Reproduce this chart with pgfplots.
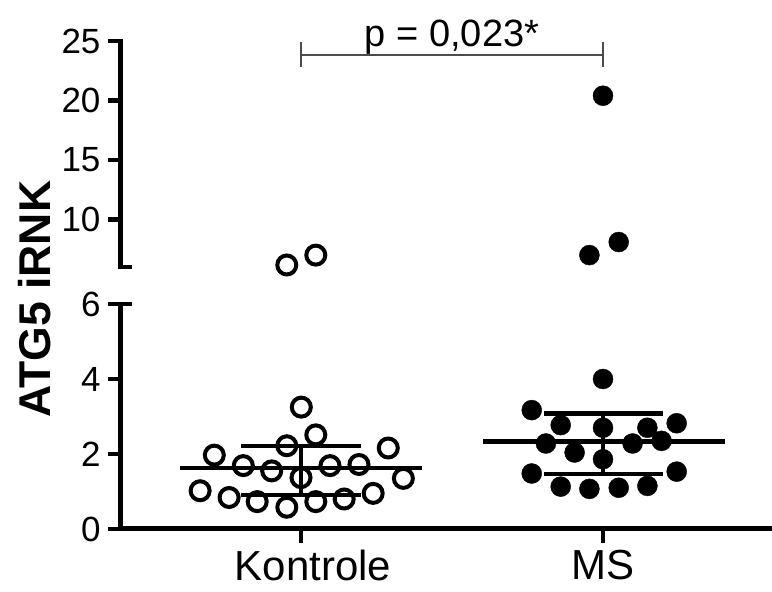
\documentclass[border=0pt]{standalone}
\usepackage{fontspec}
\setmainfont{Liberation Sans}
\usepackage{pgfplots}
\pgfplotsset{compat=1.18}
\tikzset{tk/.style={line width=4.5pt}}
\begin{document}
\begin{tikzpicture}
\useasboundingbox (0pt,0pt) rectangle (772pt,592pt);
\pgfplotsset{
 common/.style={scale only axis, width=652pt, xmin=0.4007, xmax=2.5596, clip=false,
  major tick length=12pt, tick align=outside,
  /pgf/number format/assume math mode=true,
  yticklabel style={font=\fontsize{35}{40}\selectfont, xshift=-10pt},
 },
 lines/.style={
  axis line style={draw=none,-},
  every outer x axis line/.append style={-},
  every outer y axis line/.append style={-},
  tick style={draw=none},
 },
 ctrl/.style={only marks, mark=o, mark size=9.5pt, line width=4pt, black},
 ms/.style={only marks, mark=*, mark size=10pt, black},
 bar/.style={black, line width=4.5pt, no marks},
}
% lower segment
\begin{axis}[common, at={(120pt,63pt)}, anchor=south west, height=225pt,
  ymin=0, ymax=6, axis x line=bottom, axis y line=left, ytick={0,2,4,6},
  xtick={1,2}, xticklabels={\hspace*{24pt}Kontrole,MS},
  xticklabel style={font=\fontsize{42}{48}\selectfont, yshift=-12pt}, lines]
\addplot[ctrl] coordinates {
(1.001,3.25) (1.049,2.51) (0.953,2.22) (0.713,1.97) (1.289,2.16)
(0.809,1.69) (0.903,1.55) (1.000,1.37) (1.096,1.69) (1.192,1.72)
(1.339,1.35) (0.666,1.02) (0.762,0.84) (0.855,0.73) (0.953,0.58)
(1.049,0.73) (1.143,0.80) (1.239,0.95)};
\addplot[ms] coordinates {
(2.000,4.00) (1.764,3.17) (1.860,2.77) (2.000,2.70) (2.147,2.70)
(2.244,2.82) (1.811,2.28) (1.906,2.04) (2.098,2.28) (2.194,2.35)
(2.000,1.86) (1.764,1.48) (2.244,1.53) (1.860,1.13) (1.955,1.07)
(2.052,1.10) (2.147,1.15)};
\addplot[bar] coordinates {(0.6,1.62) (1.4,1.62)};
\addplot[bar] coordinates {(0.8,2.21) (1.2,2.21)};
\addplot[bar] coordinates {(0.8,0.91) (1.2,0.91)};
\addplot[bar] coordinates {(1,0.91) (1,2.21)};
\addplot[bar] coordinates {(1.604,2.33) (2.404,2.33)};
\addplot[bar] coordinates {(1.805,3.08) (2.2,3.08)};
\addplot[bar] coordinates {(1.805,1.46) (2.2,1.46)};
\addplot[bar] coordinates {(2,1.46) (2,3.08)};
% spines and ticks
\draw[line width=5pt, line join=miter] (rel axis cs:0,1) -- (rel axis cs:0,0) -- (rel axis cs:1,0);
\draw[tk] (rel axis cs:0,0) -- ++(-12pt,0pt);
\draw[tk] (axis cs:0.4007,2) -- ++(-12pt,0pt);
\draw[tk] (axis cs:0.4007,4) -- ++(-12pt,0pt);
\draw[tk] (rel axis cs:0,1) ++(-12pt,0pt) -- ++(24pt,0pt);
\draw[tk] (axis cs:1,0) -- ++(0pt,-14pt);
\draw[tk] (axis cs:2,0) -- ++(0pt,-14pt);
\end{axis}
% upper segment
\begin{axis}[common, at={(120pt,325pt)}, anchor=south west, height=226pt,
  ymin=6, ymax=25, axis x line=none, axis y line=left, ytick={10,15,20,25}, lines]
\addplot[ctrl] coordinates {(0.953,6.17) (1.049,7.0)};
\addplot[ms] coordinates {(2.0,20.4) (1.955,7.0) (2.052,8.1)};
\draw[line width=5pt] (rel axis cs:0,0) -- (rel axis cs:0,1);
\draw[tk] (rel axis cs:0,0) ++(-2.5pt,0pt) -- ++(14.5pt,0pt);
\draw[tk] (axis cs:0.4007,10) -- ++(-12pt,0pt);
\draw[tk] (axis cs:0.4007,15) -- ++(-12pt,0pt);
\draw[tk] (axis cs:0.4007,20) -- ++(-12pt,0pt);
\draw[tk] (rel axis cs:0,1) ++(2.5pt,0pt) -- ++(-14.5pt,0pt);
\draw[line width=2pt, black!70] (axis cs:1,22.81) -- (axis cs:1,24.92);
\draw[line width=2pt, black!70] (axis cs:2,22.81) -- (axis cs:2,24.92);
\draw[line width=2pt, black!70] (axis cs:1,23.82) -- (axis cs:2,23.82);
\node[anchor=base, font=\fontsize{38}{44}\selectfont] at (axis cs:1.5,24.5) {p = 0,023*};
\end{axis}
\node[rotate=90, anchor=base, font=\bfseries\fontsize{44.5}{52}\selectfont] at (50pt,293pt) {ATG5 iRNK};
\end{tikzpicture}
\end{document}
